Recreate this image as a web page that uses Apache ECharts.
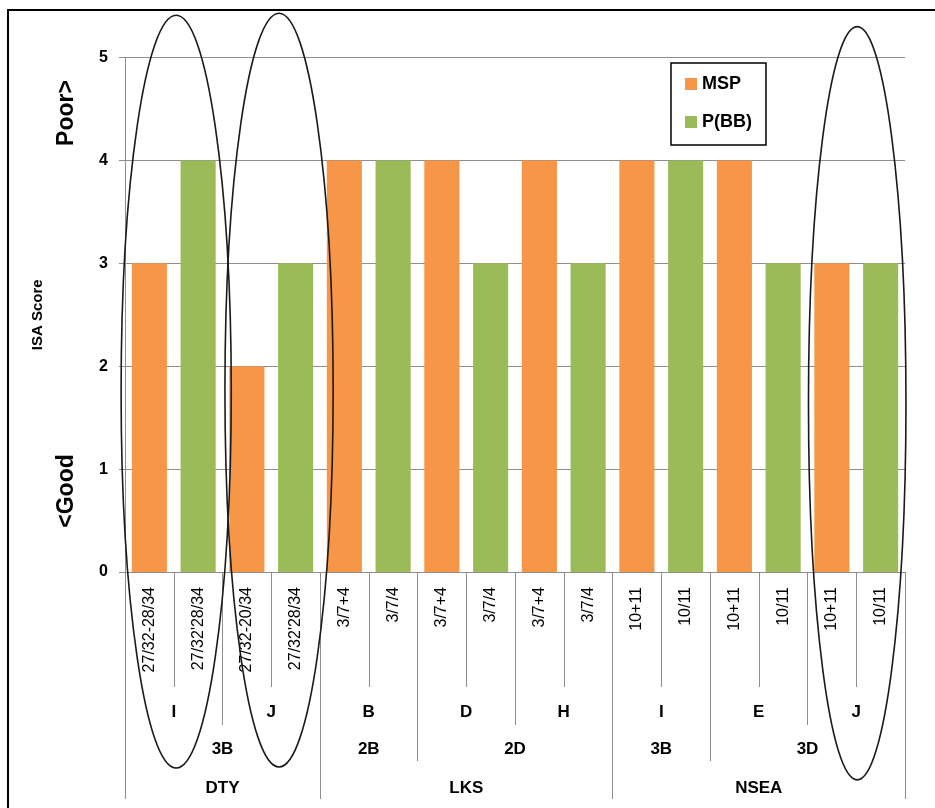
<!DOCTYPE html>
<html>
<head>
<meta charset="utf-8">
<script src="https://cdn.jsdelivr.net/npm/echarts@6/dist/echarts.min.js"></script>
<style>
html,body{margin:0;padding:0;background:#fff;}
#chart{width:935px;height:808px;}
</style>
</head>
<body>
<div id="chart"></div>
<script>
const categories = ["27/32-28/34", "27/32'28/34", "27/32-20/34", "27/32'28/34", "3/7+4", "3/7/4", "3/7+4", "3/7/4", "3/7+4", "3/7/4", "10+11", "10/11", "10+11", "10/11", "10+11", "10/11"];
const mspValues = [3, null, 2, null, 4, null, 4, null, 4, null, 4, null, 4, null, 3, null];
const pbbValues = [null, 4, null, 3, null, 4, null, 3, null, 3, null, 4, null, 3, null, 3];
const seriesNames = ['MSP', 'P(BB)'];
const yTicks = [0, 1, 2, 3, 4, 5];
const level2Labels = ['I', 'J', 'B', 'D', 'H', 'I', 'E', 'J'];
const level2Sizes = [2, 2, 2, 2, 2, 2, 2, 2];
const level3Labels = ['3B', '2B', '2D', '3B', '3D'];
const level3Sizes = [4, 2, 4, 2, 4];
const level4Labels = ['DTY', 'LKS', 'NSEA'];
const level4Sizes = [4, 6, 6];
// highlighted category pairs (annotation ovals), in data units
const ovalFirst = [0, 2, 14];
const ovalLast = [1, 3, 15];
const ovalShift = [0.05, 0.16, 0.02];
const ovalHalfWidth = [1.13, 1.11, 1.0];
const ovalTop = [5.41, 5.43, 5.30];
const ovalBottom = [-1.905, -1.895, -2.02];

const FONT = "'Liberation Sans', Arial, sans-serif";
const GRAY = '#8e8e8e';
const chart = echarts.init(document.getElementById('chart'), null, {renderer: 'canvas'});

function levelAxis(labels, sizes, tickLen, margin) {
  const n = categories.length * 2 + 1;
  const bounds = new Set([0]);
  const labelAt = new Map();
  let start = 0;
  labels.forEach((lab, k) => {
    labelAt.set(start * 2 + sizes[k], lab);
    start += sizes[k];
    bounds.add(start * 2);
  });
  return {
    type: 'category', position: 'bottom', gridIndex: 0, boundaryGap: false,
    data: Array.from({length: n}, (_, i) => 'p' + i),
    axisLine: {show: false, onZero: false},
    axisTick: {show: true, length: tickLen, interval: (i) => bounds.has(i), lineStyle: {color: GRAY, width: 1}},
    axisLabel: {
      show: true, interval: (i) => labelAt.has(i), margin: margin, verticalAlign: 'middle',
      formatter: (v, i) => labelAt.get(i) || '',
      fontFamily: FONT, fontWeight: 'bold', fontSize: 17, color: '#000'
    },
    splitLine: {show: false}
  };
}

const option = {
  backgroundColor: '#fff',
  animation: false,
  grid: {left: 125, right: 30, top: 57.5, bottom: 236, containLabel: false},
  legend: {
    data: seriesNames, orient: 'vertical', left: 671, top: 63,
    itemWidth: 12, itemHeight: 12, itemGap: 20, icon: 'rect',
    padding: [12, 14, 14, 14],
    borderColor: '#000', borderWidth: 1.5,
    textStyle: {fontFamily: FONT, fontWeight: 'bold', fontSize: 18, color: '#000'}
  },
  xAxis: [
    {
      type: 'category', position: 'bottom', data: categories, boundaryGap: true,
      axisLine: {show: true, onZero: false, lineStyle: {color: GRAY, width: 1}},
      axisTick: {show: true, interval: 0, length: 115, lineStyle: {color: GRAY, width: 1}},
      axisLabel: {interval: 0, rotate: 90, margin: 15, fontFamily: FONT, fontSize: 16, color: '#000'},
      splitLine: {show: false}
    },
    levelAxis(level2Labels, level2Sizes, 153, 140),
    levelAxis(level3Labels, level3Sizes, 189, 177),
    levelAxis(level4Labels, level4Sizes, 227, 216)
  ],
  yAxis: {
    type: 'value', min: yTicks[0], max: yTicks[yTicks.length - 1], interval: 1,
    name: 'ISA Score', nameLocation: 'middle', nameGap: 80, nameRotate: 90,
    nameTextStyle: {fontFamily: FONT, fontWeight: 'bold', fontSize: 15, color: '#000'},
    axisLine: {show: true, lineStyle: {color: GRAY, width: 1}},
    axisTick: {show: true, length: 6, lineStyle: {color: GRAY, width: 1}},
    axisLabel: {margin: 17, fontFamily: FONT, fontWeight: 'bold', fontSize: 16, color: '#000'},
    splitLine: {show: true, lineStyle: {color: GRAY, width: 1}}
  },
  series: [
    {name: seriesNames[0], type: 'bar', xAxisIndex: 0, data: mspValues, barWidth: '72%', barGap: '-100%', itemStyle: {color: '#F79646'}},
    {name: seriesNames[1], type: 'bar', xAxisIndex: 0, data: pbbValues, barWidth: '72%', barGap: '-100%', itemStyle: {color: '#9BBB59'}}
  ]
};
chart.setOption(option);

const px = (c) => chart.convertToPixel({xAxisIndex: 0}, c);
const py = (v) => chart.convertToPixel({yAxisIndex: 0}, v);
const band = px(1) - px(0);
const graphics = [
  {id: 'border', type: 'rect', z: 100, silent: true,
   shape: {x: 8, y: 10, width: 1000, height: 1000},
   style: {fill: 'none', stroke: '#000', lineWidth: 2}},
  {id: 'poor', type: 'text', z: 100, x: 67, y: 113, rotation: Math.PI / 2,
   style: {text: 'Poor>', fontFamily: FONT, fontWeight: 'bold', fontSize: 23, fill: '#000', textAlign: 'center', textVerticalAlign: 'middle'}},
  {id: 'good', type: 'text', z: 100, x: 67, y: 491, rotation: Math.PI / 2,
   style: {text: '<Good', fontFamily: FONT, fontWeight: 'bold', fontSize: 23, fill: '#000', textAlign: 'center', textVerticalAlign: 'middle'}}
];
ovalFirst.forEach((f, k) => {
  const cx = (px(f) + px(ovalLast[k])) / 2 + ovalShift[k] * band;
  const yTop = py(ovalTop[k]);
  const yBot = py(ovalBottom[k]);
  graphics.push({
    id: 'oval' + k, type: 'ellipse', z: 100, silent: true,
    shape: {cx: cx, cy: (yTop + yBot) / 2, rx: ovalHalfWidth[k] * band, ry: (yBot - yTop) / 2},
    style: {fill: 'none', stroke: '#1a1a1a', lineWidth: 1.6}
  });
});
chart.setOption({graphic: graphics});
</script>
</body>
</html>
